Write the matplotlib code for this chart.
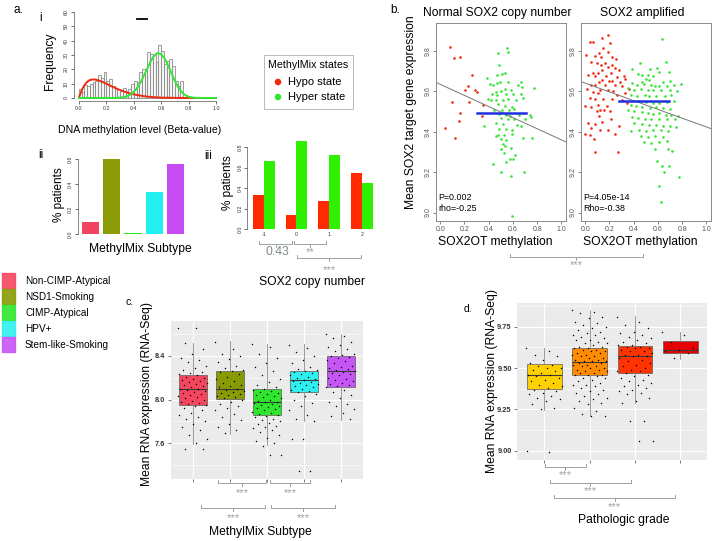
import numpy as np
import matplotlib
matplotlib.use("Agg")
import matplotlib.pyplot as plt
from matplotlib.patches import Rectangle

plt.rcParams['font.family'] = ['Liberation Sans', 'DejaVu Sans']

W, H = 713, 541

# ---------------- data ----------------
# a.i  histogram of beta values + fitted mixture components
hist_left = np.round(np.arange(0, 0.78, 0.02), 2)
hist_counts = [6, 4, 9, 8, 10, 11, 12, 16, 14, 18, 12, 13, 8, 6, 6, 5, 7, 5, 6, 10,
               12, 11, 18, 20, 20, 32, 31, 30, 25, 37, 33, 24, 26, 27, 22, 12, 8, 12, 0]
hypo_x = [0, 0.02, 0.04, 0.06, 0.08, 0.10, 0.12, 0.14, 0.16, 0.18, 0.20, 0.24, 0.28,
          0.32, 0.36, 0.40, 0.45, 0.50, 0.55, 0.60, 0.70, 0.80, 0.90, 1.00]
hypo_y = [0.3, 5.5, 9.0, 11.3, 12.5, 12.9, 12.8, 12.3, 11.6, 10.8, 9.9, 8.0, 6.3,
          4.8, 3.5, 2.5, 1.6, 0.9, 0.5, 0.25, 0.05, 0, 0, 0]
hyper_x = [0, 0.25, 0.30, 0.33, 0.36, 0.39, 0.42, 0.45, 0.48, 0.51, 0.54, 0.57, 0.60,
           0.63, 0.66, 0.69, 0.72, 0.75, 0.78, 0.81, 0.85, 0.90, 1.00]
hyper_y = [0, 0, 0.2, 0.6, 1.5, 3.3, 6.4, 11.0, 16.8, 23.0, 28.5, 31.3, 30.6,
           26.8, 20.6, 13.9, 8.1, 4.1, 1.7, 0.6, 0.1, 0, 0]

# a.ii
subtypes = ['Non-CIMP-Atypical', 'NSD1-Smoking', 'CIMP-Atypical', 'HPV+', 'Stem-like-Smoking']
subtype_pct = [0.096, 0.60, 0.01, 0.336, 0.56]
subtype_colors = ['#f2445e', '#899c06', '#22e822', '#22f0f0', '#c64cf4']

# a.iii
copy_number = ['-1', '0', '1', '2']
hypo_pct = [0.335, 0.137, 0.275, 0.552]
hyper_pct = [0.665, 0.863, 0.725, 0.448]

# b. scatter (SOX2OT methylation, mean target expression)
nl_red_x = [0.079, 0.115, 0.163, 0.258, 0.225, 0.208, 0.289, 0.303, 0.239, 0.093, 0.354,
            0.163, 0.346, 0.157, 0.037, 0.124]
nl_red_y = [9.821, 9.767, 9.769, 9.679, 9.625, 9.607, 9.608, 9.597, 9.548, 9.546, 9.531,
            9.495, 9.479, 9.452, 9.418, 9.369]
nl_grn_x = [0.551, 0.562, 0.475, 0.486, 0.466, 0.511, 0.537, 0.382, 0.410, 0.438, 0.472,
            0.489, 0.562, 0.669, 0.640, 0.772, 0.674, 0.537, 0.584, 0.500, 0.458, 0.430,
            0.472, 0.539, 0.598, 0.663, 0.393, 0.421, 0.458, 0.514, 0.562, 0.626, 0.683,
            0.478, 0.534, 0.596, 0.612, 0.570, 0.506, 0.444, 0.486, 0.542, 0.579, 0.649,
            0.739, 0.747, 0.500, 0.556, 0.607, 0.697, 0.461, 0.520, 0.635, 0.365, 0.486,
            0.542, 0.590, 0.669, 0.478, 0.461, 0.525, 0.590, 0.500, 0.542, 0.683, 0.753,
            0.514, 0.534, 0.584, 0.500, 0.522, 0.618, 0.579, 0.601, 0.438, 0.542, 0.500,
            0.691, 0.584, 0.590]
nl_grn_y = [9.816, 9.793, 9.792, 9.730, 9.682, 9.687, 9.690, 9.666, 9.636, 9.631, 9.641,
            9.649, 9.646, 9.648, 9.631, 9.615, 9.620, 9.611, 9.605, 9.602, 9.598, 9.589,
            9.582, 9.585, 9.585, 9.589, 9.562, 9.559, 9.559, 9.559, 9.562, 9.559, 9.566,
            9.536, 9.530, 9.523, 9.513, 9.510, 9.507, 9.510, 9.489, 9.485, 9.480, 9.485,
            9.484, 9.475, 9.469, 9.464, 9.461, 9.464, 9.444, 9.439, 9.436, 9.431, 9.415,
            9.415, 9.408, 9.428, 9.385, 9.379, 9.382, 9.387, 9.366, 9.359, 9.367, 9.369,
            9.338, 9.330, 9.321, 9.316, 9.297, 9.284, 9.264, 9.264, 9.241, 9.251, 9.202,
            9.202, 9.179, 8.985]
amp_red_x = [0.185, 0.140, 0.037, 0.065, 0.205, 0.149, 0.112, 0.191, 0.008, 0.084, 0.129,
             0.219, 0.256, 0.051, 0.101, 0.163, 0.219, 0.129, 0.185, 0.242, 0.140, 0.281,
             0.065, 0.107, 0.213, 0.022, 0.084, 0.169, 0.261, 0.317, 0.331, 0.135, 0.197,
             0.112, 0.219, 0.289, 0.045, 0.079, 0.163, 0.247, 0.303, 0.360, 0.017, 0.121,
             0.185, 0.233, 0.065, 0.107, 0.331, 0.261, 0.037, 0.079, 0.149, 0.219, 0.303,
             0.0, 0.107, 0.051, 0.177, 0.346, 0.121, 0.157, 0.093, 0.205, 0.112, 0.022,
             0.079, 0.135, 0.213, 0.275, 0.051, 0.121, 0.191, 0.0, 0.037, 0.242, 0.073,
             0.084, 0.270]
amp_red_y = [9.879, 9.867, 9.846, 9.846, 9.838, 9.813, 9.792, 9.793, 9.780, 9.775, 9.772,
             9.769, 9.759, 9.748, 9.743, 9.739, 9.731, 9.731, 9.723, 9.715, 9.707, 9.707,
             9.690, 9.693, 9.693, 9.682, 9.674, 9.677, 9.670, 9.674, 9.661, 9.657, 9.654,
             9.649, 9.652, 9.649, 9.633, 9.630, 9.633, 9.633, 9.628, 9.613, 9.611, 9.608,
             9.605, 9.600, 9.595, 9.592, 9.592, 9.584, 9.567, 9.562, 9.564, 9.562, 9.559,
             9.530, 9.534, 9.523, 9.530, 9.543, 9.510, 9.507, 9.502, 9.502, 9.480, 9.444,
             9.441, 9.448, 9.461, 9.428, 9.420, 9.411, 9.411, 9.387, 9.382, 9.387, 9.362,
             9.300, 9.300]
amp_grn_x = [0.635, 0.663, 0.449, 0.388, 0.537, 0.590, 0.607, 0.691, 0.438, 0.472, 0.514,
             0.562, 0.500, 0.528, 0.466, 0.640, 0.702, 0.787, 0.388, 0.430, 0.486, 0.542,
             0.579, 0.612, 0.674, 0.730, 0.354, 0.402, 0.458, 0.514, 0.562, 0.626, 0.697,
             0.758, 0.374, 0.430, 0.494, 0.528, 0.584, 0.654, 0.711, 0.444, 0.500, 0.556,
             0.612, 0.674, 0.730, 0.374, 0.416, 0.472, 0.534, 0.584, 0.640, 0.697, 0.354,
             0.402, 0.466, 0.514, 0.562, 0.612, 0.663, 0.711, 0.767, 0.382, 0.438, 0.494,
             0.542, 0.612, 0.674, 0.739, 0.402, 0.466, 0.522, 0.584, 0.640, 0.702, 0.747,
             0.374, 0.444, 0.500, 0.562, 0.626, 0.683, 0.458, 0.514, 0.579, 0.640, 0.486,
             0.542, 0.607, 0.674, 0.579, 0.683, 0.713, 0.590, 0.635, 0.691, 0.646, 0.775,
             0.607, 0.621]
amp_grn_y = [9.859, 9.748, 9.739, 9.710, 9.710, 9.715, 9.698, 9.695, 9.687, 9.682, 9.682,
             9.677, 9.661, 9.657, 9.649, 9.649, 9.654, 9.638, 9.644, 9.633, 9.638, 9.633,
             9.628, 9.625, 9.625, 9.633, 9.616, 9.608, 9.611, 9.605, 9.608, 9.605, 9.608,
             9.600, 9.584, 9.579, 9.584, 9.575, 9.579, 9.575, 9.584, 9.551, 9.546, 9.543,
             9.543, 9.546, 9.551, 9.534, 9.526, 9.523, 9.518, 9.523, 9.518, 9.513, 9.510,
             9.502, 9.497, 9.493, 9.490, 9.493, 9.485, 9.485, 9.477, 9.474, 9.469, 9.464,
             9.464, 9.461, 9.464, 9.461, 9.444, 9.441, 9.436, 9.436, 9.431, 9.428, 9.425,
             9.403, 9.411, 9.403, 9.408, 9.408, 9.403, 9.379, 9.375, 9.379, 9.375, 9.349,
             9.346, 9.349, 9.354, 9.313, 9.316, 9.307, 9.256, 9.231, 9.231, 9.202, 9.174,
             9.130, 9.054]
nl_fit = (9.635, -0.275)
amp_fit = (9.641, -0.217)
nl_hyper_mean = (0.30, 0.71, 9.492)
amp_hyper_mean = (0.28, 0.69, 9.552)

# c. expression by MethylMix subtype: box stats + jittered samples
c_stats = [  # q1, median, q3, whisker low, whisker high
    (7.954, 8.100, 8.222, 7.594, 8.519),
    (8.003, 8.094, 8.256, 7.685, 8.533),
    (7.863, 7.973, 8.100, 7.584, 8.505),
    (8.070, 8.178, 8.260, 7.800, 8.505),
    (8.116, 8.260, 8.396, 7.816, 8.600),
]
c_points = [
    [8.65, 8.65, 8.52, 8.46, 8.42, 8.38, 8.36, 8.34, 8.31, 8.29, 8.27, 8.25, 8.24, 8.23,
     8.22, 8.21, 8.20, 8.19, 8.18, 8.17, 8.16, 8.15, 8.14, 8.13, 8.12, 8.11, 8.10, 8.10,
     8.09, 8.08, 8.07, 8.06, 8.05, 8.04, 8.03, 8.02, 8.01, 8.00, 7.99, 7.98, 7.97, 7.96,
     7.95, 7.94, 7.92, 7.90, 7.88, 7.86, 7.84, 7.82, 7.80, 7.78, 7.75, 7.72, 7.68, 7.64,
     7.60, 7.55, 7.55],
    [8.53, 8.46, 8.42, 8.40, 8.37, 8.34, 8.31, 8.29, 8.27, 8.26, 8.25, 8.23, 8.21, 8.19,
     8.17, 8.15, 8.13, 8.12, 8.11, 8.10, 8.09, 8.08, 8.07, 8.06, 8.05, 8.04, 8.03, 8.02,
     8.01, 8.00, 7.98, 7.96, 7.94, 7.92, 7.90, 7.87, 7.84, 7.81, 7.78, 7.75, 7.72, 7.69],
    [8.51, 8.48, 8.42, 8.38, 8.33, 8.30, 8.26, 8.22, 8.19, 8.16, 8.13, 8.11, 8.10, 8.09,
     8.08, 8.07, 8.06, 8.05, 8.04, 8.03, 8.02, 8.01, 8.00, 7.99, 7.98, 7.98, 7.97, 7.96,
     7.95, 7.94, 7.93, 7.92, 7.91, 7.90, 7.89, 7.88, 7.87, 7.86, 7.85, 7.84, 7.82, 7.81,
     7.80, 7.79, 7.78, 7.76, 7.75, 7.74, 7.72, 7.70, 7.68, 7.65, 7.62, 7.60, 7.58, 7.49,
     7.49],
    [8.50, 8.47, 8.43, 8.40, 8.36, 8.33, 8.30, 8.28, 8.27, 8.26, 8.25, 8.24, 8.23, 8.22,
     8.21, 8.20, 8.19, 8.18, 8.17, 8.16, 8.15, 8.14, 8.13, 8.12, 8.11, 8.10, 8.09, 8.08,
     8.07, 8.05, 8.03, 8.00, 7.97, 7.94, 7.90, 7.86, 7.82, 7.80, 7.64, 7.64, 7.35, 7.35],
    [8.60, 8.58, 8.56, 8.53, 8.50, 8.48, 8.46, 8.44, 8.42, 8.41, 8.40, 8.39, 8.38, 8.36,
     8.35, 8.33, 8.31, 8.30, 8.29, 8.28, 8.27, 8.26, 8.25, 8.24, 8.23, 8.22, 8.20, 8.19,
     8.18, 8.17, 8.15, 8.14, 8.13, 8.12, 8.11, 8.09, 8.07, 8.04, 8.01, 7.98, 7.96, 7.94,
     7.91, 7.88, 7.85, 7.82],
]
c_colors = ['#f4465f', '#889a04', '#2ee62e', '#2ef0f0', '#c655f5']

# d. expression by pathologic grade
d_stats = [
    (9.376, 9.457, 9.524, 9.246, 9.623),
    (9.456, 9.535, 9.624, 9.207, 9.853),
    (9.472, 9.571, 9.632, 9.286, 9.815),
    (9.590, 9.610, 9.663, 9.555, 9.716),
]
d_points = [
    [9.62, 9.60, 9.58, 9.57, 9.55, 9.53, 9.52, 9.51, 9.50, 9.50, 9.49, 9.48, 9.47, 9.46,
     9.46, 9.45, 9.44, 9.43, 9.42, 9.41, 9.40, 9.39, 9.38, 9.37, 9.36, 9.35, 9.34, 9.33,
     9.32, 9.31, 9.30, 9.28, 9.26, 9.25, 9.00, 8.99],
    [9.85, 9.84, 9.83, 9.81, 9.80, 9.78, 9.77, 9.76, 9.75, 9.74, 9.73, 9.72, 9.71, 9.70,
     9.70, 9.69, 9.68, 9.67, 9.67, 9.66, 9.65, 9.65, 9.64, 9.63, 9.63, 9.62, 9.62, 9.61,
     9.61, 9.60, 9.60, 9.59, 9.59, 9.58, 9.58, 9.57, 9.57, 9.56, 9.56, 9.55, 9.55, 9.54,
     9.54, 9.54, 9.53, 9.53, 9.52, 9.52, 9.51, 9.51, 9.50, 9.50, 9.49, 9.49, 9.48, 9.48,
     9.47, 9.47, 9.46, 9.46, 9.46, 9.45, 9.44, 9.44, 9.43, 9.42, 9.41, 9.40, 9.40, 9.39,
     9.38, 9.37, 9.36, 9.35, 9.34, 9.33, 9.32, 9.31, 9.30, 9.29, 9.28, 9.26, 9.24, 9.22,
     9.21, 9.21],
    [9.81, 9.78, 9.76, 9.74, 9.72, 9.71, 9.70, 9.69, 9.68, 9.67, 9.66, 9.65, 9.64, 9.64,
     9.63, 9.63, 9.62, 9.62, 9.61, 9.60, 9.60, 9.59, 9.58, 9.58, 9.57, 9.57, 9.56, 9.55,
     9.54, 9.53, 9.52, 9.51, 9.50, 9.49, 9.48, 9.48, 9.47, 9.46, 9.45, 9.44, 9.43, 9.42,
     9.41, 9.40, 9.39, 9.38, 9.37, 9.36, 9.35, 9.34, 9.32, 9.30, 9.29, 9.18, 9.18, 9.06,
     9.06],
    [9.72, 9.70, 9.66, 9.62, 9.61, 9.60, 9.59, 9.56],
]
d_colors = ['#ffd000', '#ff8c00', '#ff3300', '#e60000']

RED = '#f02a10'
GREEN = '#33e633'
GRAY = '#9aa3a3'

# ---------------- layout helpers ----------------
fig = plt.figure(figsize=(W / 100, H / 100), dpi=100)


def box(l, t, r, b):
    return fig.add_axes([l / W, 1 - b / H, (r - l) / W, (b - t) / H])


ov = fig.add_axes([0, 0, 1, 1], zorder=10)
ov.set_xlim(0, W)
ov.set_ylim(H, 0)
ov.axis('off')


def txt(x, y, s, size=8.7, **kw):
    kw.setdefault('ha', 'center')
    kw.setdefault('va', 'center')
    ov.text(x, y, s, fontsize=size, **kw)


def bracket(x1, x2, y, label, ly, size=8, color=GRAY):
    xm = (x1 + x2) / 2
    ov.plot([x1, x1, x2, x2], [y - 3, y, y, y - 3], color=color, lw=0.7)
    ov.plot([xm, xm], [y, y + 3], color=color, lw=0.7)
    # asterisks sit high in the text box, so push the box down a little
    txt(xm, ly + 2.5, label, size, color=color)


def r_style(ax, size=3.8):
    for s in ['top', 'right']:
        ax.spines[s].set_visible(False)
    for s in ['left', 'bottom']:
        ax.spines[s].set_linewidth(0.5)
        ax.spines[s].set_color('#555555')
    ax.tick_params(labelsize=size, length=2, width=0.5, pad=1.5, colors='#333333')
    ax.tick_params(axis='y', labelrotation=90)
    for lab in ax.get_yticklabels():
        lab.set_va('center')


# ---------------- a.i ----------------
ax = box(73.5, 8.5, 221.5, 101.4)
ax.bar(hist_left, hist_counts, width=0.02, align='edge', color='#f4f4f4',
       edgecolor='#7a7a7a', lw=0.5)
ax.plot(hypo_x, hypo_y, color=RED, lw=1.4)
ax.plot(hyper_x, hyper_y, color=GREEN, lw=1.4)
ax.set_xlim(-0.04, 1.04)
ax.set_ylim(-2.4, 62.4)
ax.set_xticks(np.arange(0, 1.01, 0.2))
ax.set_xticklabels(['0.0', '0.2', '0.4', '0.6', '0.8', '1.0'])
ax.set_yticks(range(0, 61, 10))
ax.spines['left'].set_bounds(0, 60)
ax.spines['bottom'].set_bounds(0, 1)
ax.patch.set_alpha(0)
r_style(ax)
ov.plot([137, 147], [19, 19], color='black', lw=1.3)

txt(18, 10, 'a.', 8.5)
txt(41, 18, 'i', 8.5)
txt(50, 61, 'Frequency', 8.7, rotation=90)
txt(140, 130, 'DNA methylation level (Beta-value)', 7.6)

# legend for methylation states
ov.add_patch(Rectangle((264, 55), 89, 54, fill=False, edgecolor='#b0b0b0', lw=0.6))
txt(308.5, 65, 'MethylMix states', 7.7)
ov.scatter([278, 278], [82, 97], s=14, color=[RED, GREEN])
txt(288, 82, 'Hypo state', 8, ha='left')
txt(288, 97, 'Hyper state', 8, ha='left')

# ---------------- a.ii ----------------
ax = box(77.75, 155.25, 188.25, 234)
ax.bar(range(len(subtypes)), subtype_pct, width=0.82, color=subtype_colors)
ax.set_xlim(-0.6, 4.6)
ax.set_ylim(0, 0.63)
ax.set_yticks([0, 0.2, 0.4, 0.6])
ax.set_yticklabels(['0.0', '0.2', '0.4', '0.6'])
ax.set_xticks([])
ax.spines['bottom'].set_visible(False)
ax.spines['left'].set_bounds(0, 0.6)
ax.patch.set_alpha(0)
r_style(ax)
txt(41, 155, 'ii', 8.5)
txt(59, 195, '% patients', 8.5, rotation=90)
txt(140, 249, 'MethylMix Subtype', 8.7)

# ---------------- a.iii ----------------
ax = box(247, 137.2, 375, 229)
pos = np.arange(len(copy_number))
ax.bar(pos - 0.167, hypo_pct, width=0.335, color='#ff2a00')
ax.bar(pos + 0.167, hyper_pct, width=0.335, color='#2ef000')
ax.set_xlim(-0.52, 3.41)
ax.set_ylim(0, 0.9)
ax.set_yticks([0, 0.2, 0.4, 0.6, 0.8])
ax.set_yticklabels(['0.0', '0.2', '0.4', '0.6', '0.8'])
ax.set_xticks(pos)
ax.set_xticklabels(copy_number)
ax.spines['bottom'].set_visible(False)
ax.spines['left'].set_bounds(0, 0.8)
ax.patch.set_alpha(0)
r_style(ax)
ax.tick_params(axis='y', pad=1)
ax.tick_params(axis='x', length=0, pad=2)
txt(208, 156, 'iii', 8.5)
txt(228, 183, '% patients', 8.5, rotation=90)
bracket(259, 292, 244, '', 0)
txt(277, 252, '0.43', 8.8, color='#7d8a8a')
bracket(294, 326, 244, '**', 250)
bracket(297, 360.7, 258, '***', 268)
txt(312, 282, 'SOX2 copy number', 8.7)

# ---------------- b ----------------
panels_b = [
    (436, 565.7, 'Normal SOX2 copy number', nl_red_x, nl_red_y, nl_grn_x, nl_grn_y,
     nl_fit, nl_hyper_mean, 'P=0.002', 'rho=-0.25'),
    (581, 710.7, 'SOX2 amplified', amp_red_x, amp_red_y, amp_grn_x, amp_grn_y,
     amp_fit, amp_hyper_mean, 'P=4.05e-14', 'Rho=-0.38'),
]
for l, r, title, rx, ry, gx, gy, fit, hm, ptxt, rtxt in panels_b:
    ax = box(l, 23, r, 221)
    ax.scatter(rx, ry, s=3.5, color=RED, lw=0)
    ax.scatter(gx, gy, s=3.5, color=GREEN, lw=0)
    ax.axline((0, fit[0]), slope=fit[1], color='#777777', lw=0.7)
    ax.plot([hm[0], hm[1]], [hm[2], hm[2]], color='#1f2ee0', lw=1.8)
    ax.set_xlim(-0.035, 1.035)
    ax.set_ylim(8.958, 9.939)
    ax.set_xticks(np.arange(0, 1.01, 0.2))
    ax.set_xticklabels(['0.0', '0.2', '0.4', '0.6', '0.8', '1.0'])
    ax.set_yticks([9.0, 9.2, 9.4, 9.6, 9.8])
    for s in ax.spines.values():
        s.set_color('#8a8a8a')
        s.set_linewidth(0.7)
    ax.tick_params(labelsize=5, length=2, width=0.5, pad=1.5, colors='#555555')
    ax.tick_params(axis='y', labelrotation=90)
    for lab in ax.get_yticklabels():
        lab.set_va('center')
    ax.text(0.02, 0.12, ptxt, transform=ax.transAxes, fontsize=6.4, va='center')
    ax.text(0.02, 0.065, rtxt, transform=ax.transAxes, fontsize=6.4, va='center')
    txt((l + r) / 2 - 4, 13, title, 8.7)
    txt((l + r) / 2 - 6, 242, 'SOX2OT methylation', 8.7)

txt(395, 10, 'b.', 8.5)
txt(411, 112, 'Mean SOX2 target gene expression', 8.7, rotation=90)
bracket(510, 642.7, 257, '***', 263)


# ---------------- c / d boxplots ----------------
def gg_box(ax, stats, points, colors, box_w):
    bxp = [dict(q1=s[0], med=s[1], q3=s[2], whislo=s[3], whishi=s[4], fliers=[])
           for s in stats]
    pos = np.arange(1, len(stats) + 1)
    art = ax.bxp(bxp, positions=pos, widths=box_w, patch_artist=True, showcaps=False,
                 showfliers=False,
                 boxprops=dict(edgecolor='#5a5a5a', lw=0.5),
                 whiskerprops=dict(color='#8a8a8a', lw=0.6),
                 medianprops=dict(color='#3a3a3a', lw=0.8))
    for patch, c in zip(art['boxes'], colors):
        patch.set_facecolor(c)
    for p, vals in zip(pos, points):
        n = len(vals)
        offs = ((np.arange(n) * 0.618034) % 1 - 0.5) * 0.8
        ax.scatter(p + offs, vals, s=1.1, color='black', lw=0, zorder=5)
    ax.set_facecolor('#ebebeb')
    for s in ax.spines.values():
        s.set_visible(False)
    ax.set_xticks(pos)
    ax.set_xticklabels([])
    ax.grid(True, which='major', color='white', lw=0.8)
    ax.grid(True, which='minor', axis='y', color='white', lw=0.4)
    ax.set_axisbelow(True)
    ax.tick_params(length=2, width=0.5, colors='#444444', labelsize=5.3, pad=2)
    for lab in ax.get_yticklabels():
        lab.set_fontweight('bold')
        lab.set_color('#333333')


ax = box(170.7, 320.7, 362.7, 479)
gg_box(ax, c_stats, c_points, c_colors, 0.76)
ax.set_xlim(0.4, 5.6)
ax.set_ylim(7.274, 8.72)
ax.set_yticks([7.6, 8.0, 8.4])
ax.set_yticks([7.4, 7.8, 8.2, 8.6], minor=True)
ax.tick_params(which='minor', length=0)
for lab in ax.get_yticklabels():
    lab.set_fontweight('bold')
txt(130, 302, 'c.', 7.5)
txt(146.7, 394, 'Mean RNA expression (RNA-Seq)', 8.7, rotation=90)
bracket(218, 266, 483, '***', 491)
bracket(270, 310, 483, '***', 491)
bracket(201, 265, 508, '***', 516)
bracket(270.7, 335, 508, '***', 516)
txt(260, 531.7, 'MethylMix Subtype', 8.7)

# legend for subtypes
for i, (name, c) in enumerate(zip(subtypes, c_colors)):
    top = 273 + 16 * i
    ov.add_patch(Rectangle((2, top), 13, 15, color=c, alpha=0.9))
    txt(25, top + 8, name, 7.2, ha='left')

ax = box(517.3, 302.7, 707.3, 460)
gg_box(ax, d_stats, d_points, d_colors, 0.77)
ax.set_xlim(0.4, 4.6)
ax.set_ylim(8.944, 9.895)
ax.set_yticks([9.0, 9.25, 9.5, 9.75])
ax.set_yticklabels(['9.00', '9.25', '9.50', '9.75'])
ax.set_yticks([9.125, 9.375, 9.625, 9.875], minor=True)
ax.tick_params(which='minor', length=0)
for lab in ax.get_yticklabels():
    lab.set_fontweight('bold')
txt(468, 309, 'd.', 7.5)
txt(491.5, 381, 'Mean RNA expression (RNA-Seq)', 8.7, rotation=90)
bracket(545, 585.7, 467.3, '***', 473)
bracket(550, 630.7, 483.3, '***', 489)
bracket(554.3, 674.7, 498.3, '***', 505)
txt(623.3, 520, 'Pathologic grade', 8.7)

fig.savefig('out.png', dpi=100)
